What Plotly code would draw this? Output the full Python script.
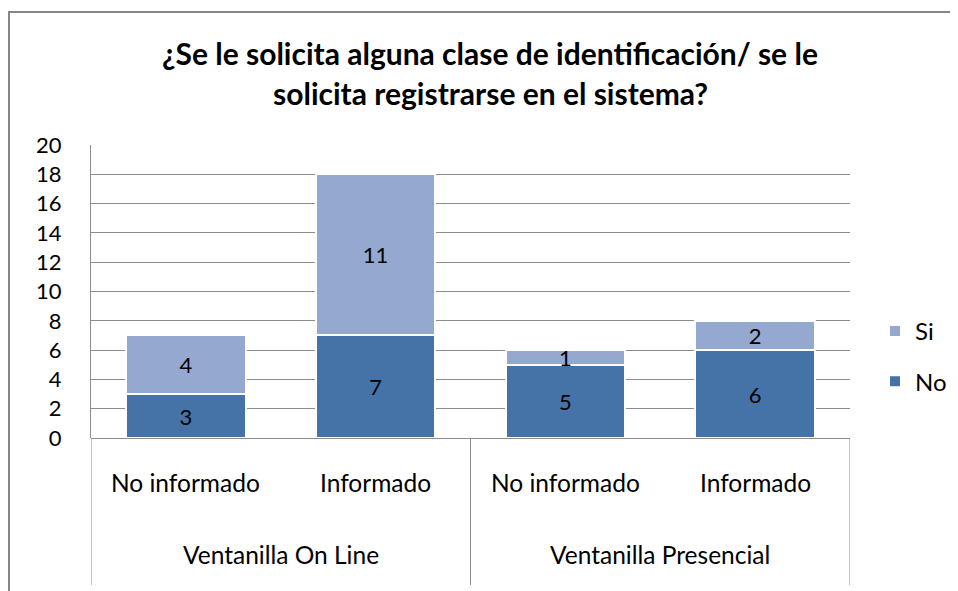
import plotly.graph_objects as go

title_lines = ["¿Se le solicita alguna clase de identificación/ se le",
               "solicita registrarse en el sistema?"]
groups = ["Ventanilla On Line", "Ventanilla Presencial"]
subcats = ["No informado", "Informado", "No informado", "Informado"]
group_of = [0, 0, 1, 1]
no_vals = [3, 7, 5, 6]
si_vals = [4, 11, 1, 2]
y_ticks = list(range(0, 21, 2))

FONT = "Lato"
C_NO = "#4572A7"
C_SI = "#95A9D0"
GRID = "#8C8C8C"

OFF = 8  # page body margin
W, H = 958 - OFF, 591 - OFF
# target pixel positions in the screenshot
PL, PR, PT, PB = 91, 850, 145, 438
L, T = PL - OFF, PT - OFF
R = W - (PR - OFF)
B = H - (PB - OFF)
pw, ph = W - L - R, H - T - B

def px_to_paper_x(px):
    return (px - PL) / pw

def px_to_paper_y(py):
    return (PB - py) / ph

xpos = list(range(len(subcats)))

fig = go.Figure()
fig.add_trace(go.Bar(x=xpos, y=no_vals, name="No", marker=dict(color=C_NO, line=dict(color="white", width=2)),
                     text=[str(v) for v in no_vals], textposition="inside", insidetextanchor="middle",
                     textangle=0, constraintext="none", textfont=dict(family=FONT, size=22, color="black"),
                     legendgroup="no", legendrank=2))
fig.add_trace(go.Bar(x=xpos, y=si_vals, name="Si", marker=dict(color=C_SI, line=dict(color="white", width=2)),
                     text=[str(v) for v in si_vals], textposition="inside", insidetextanchor="middle",
                     textangle=0, constraintext="none", textfont=dict(family=FONT, size=22, color="black"),
                     legendgroup="si", legendrank=1))

shapes = []
n = len(subcats)
bounds = [-0.5]
for i in range(1, n):
    if group_of[i] != group_of[i - 1]:
        bounds.append(i - 0.5)
bounds.append(n - 0.5)
for b in bounds:
    shapes.append(dict(type="line", xref="x", yref="paper", x0=b, x1=b, y0=0, y1=px_to_paper_y(585),
                       line=dict(color=GRID, width=1)))
# outer border (top + left)
shapes.append(dict(type="line", xref="paper", yref="paper", x0=px_to_paper_x(5), x1=px_to_paper_x(970),
                   y0=px_to_paper_y(12), y1=px_to_paper_y(12), line=dict(color="#868686", width=2)))
shapes.append(dict(type="line", xref="paper", yref="paper", x0=px_to_paper_x(9), x1=px_to_paper_x(9),
                   y0=px_to_paper_y(12), y1=px_to_paper_y(600), line=dict(color="#868686", width=2)))

annotations = []
for i, s in enumerate(subcats):
    annotations.append(dict(x=i, y=px_to_paper_y(482), xref="x", yref="paper", text=s, showarrow=False,
                            font=dict(family=FONT, size=24.5, color="black"), xanchor="center", yanchor="middle"))
for g, name in enumerate(groups):
    idx = [i for i in range(n) if group_of[i] == g]
    annotations.append(dict(x=(idx[0] + idx[-1]) / 2, y=px_to_paper_y(554), xref="x", yref="paper", text=name,
                            showarrow=False, font=dict(family=FONT, size=24.5, color="black"),
                            xanchor="center", yanchor="middle"))
for k, line in enumerate(title_lines):
    annotations.append(dict(x=px_to_paper_x(490), y=px_to_paper_y(53 + 40 * k), xref="paper", yref="paper",
                            text="<b>" + line + "</b>", showarrow=False,
                            font=dict(family=FONT, size=30, color="black"), xanchor="center", yanchor="middle"))

fig.update_layout(
    width=W, height=H, autosize=False,
    margin=dict(l=L, r=R, t=T, b=B, autoexpand=False),
    paper_bgcolor="white", plot_bgcolor="white",
    barmode="stack", bargap=0.37,
    showlegend=True,
    legend=dict(x=px_to_paper_x(875), y=px_to_paper_y(309), xanchor="left", yanchor="top",
                traceorder="grouped", tracegroupgap=16, itemwidth=30,
                font=dict(family=FONT, size=24, color="black")),
    xaxis=dict(range=[-0.5, n - 0.5], showticklabels=False, showgrid=False, zeroline=False,
               showline=False, ticks=""),
    yaxis=dict(range=[0, 20], tickvals=y_ticks, showgrid=True, gridcolor=GRID, gridwidth=1,
               zeroline=True, zerolinecolor=GRID, zerolinewidth=1,
               showline=True, linecolor=GRID, linewidth=1, ticks="",
               ticklabelstandoff=24, tickfont=dict(family=FONT, size=22, color="black")),
    shapes=shapes, annotations=annotations,
)
fig.write_html("out.html")
